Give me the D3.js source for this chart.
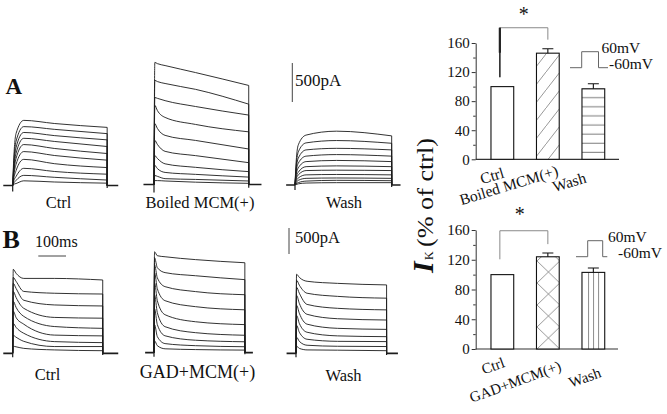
<!DOCTYPE html>
<html><head><meta charset="utf-8">
<script src="https://cdn.jsdelivr.net/npm/d3@7"></script>
<style>
body{margin:0;background:#fff}
svg{display:block}
text{font-family:"Liberation Serif","Times New Roman",serif;fill:#111}
</style>
</head><body>
<svg id="c" width="667" height="414"></svg>
<script>
// ---------------- DATA ----------------
// Bar charts (% of ctrl)
const barCategoriesA = ["Ctrl", "Boiled MCM(+)", "Wash"];
const barValuesA = [100, 146, 97];
const barErrorsA = [0, 6, 7];
const barCategoriesB = ["Ctrl", "GAD+MCM(+)", "Wash"];
const barValuesB = [100, 124, 103];
const barErrorsB = [0, 5, 6];
const barTicks = [0, 40, 80, 120, 160];
const barMinorTicks = [20, 60, 100, 140];
const protocolLabels = ["60mV", "-60mV"];

// Trace panels
const traceLabelsA = ["Ctrl", "Boiled MCM(+)", "Wash"];
const traceLabelsB = ["Ctrl", "GAD+MCM(+)", "Wash"];
const scaleBarPA = 500;
const scaleBarMs = 100;
// sample times (ms after step onset); last sample is the step end
const knotTimesA = [3, 12, 40, 150];
const knotTimesB = [2, 12, 40, 150];
const stepDurA = [341, 342, 349];
const stepDurB = [325, 328, 327];
// currents (pA) at knotTimes and at step end, one row per voltage step
const tracesACtrl = [
  [280, 665, 835, 795, 745],
  [230, 565, 755, 720, 665],
  [190, 485, 680, 640, 585],
  [155, 410, 605, 565, 500],
  [130, 345, 525, 475, 410],
  [105, 270, 435, 385, 325],
  [75, 190, 335, 280, 230],
  [50, 115, 220, 180, 145],
  [25, 65, 130, 105, 70],
  [15, 25, 60, 45, 30]
];
const tracesABoiled = [
  [1565, 1550, 1525, 1435, 1270],
  [1335, 1320, 1295, 1220, 1030],
  [1115, 1105, 1075, 1000, 890],
  [1015, 950, 860, 770, 675],
  [780, 720, 630, 565, 455],
  [565, 515, 425, 370, 280],
  [370, 335, 265, 220, 165],
  [245, 205, 155, 130, 95],
  [115, 105, 75, 65, 45],
  [50, 50, 45, 30, 15]
];
const tracesAWash = [
  [230, 515, 640, 690, 630],
  [180, 425, 540, 570, 535],
  [155, 345, 450, 470, 450],
  [130, 280, 370, 390, 370],
  [105, 220, 300, 315, 300],
  [75, 165, 235, 245, 235],
  [60, 130, 185, 190, 185],
  [40, 90, 130, 135, 130],
  [25, 60, 85, 90, 85],
  [15, 30, 50, 60, 55],
  [5, 15, 25, 30, 30]
];
const tracesBCtrl = [
  [1615, 1540, 1440, 1440, 1410],
  [1460, 1385, 1190, 1155, 1140],
  [1345, 1250, 1020, 930, 910],
  [1190, 1075, 865, 690, 675],
  [1000, 885, 710, 515, 480],
  [810, 690, 560, 350, 335],
  [575, 500, 385, 225, 205],
  [345, 310, 230, 130, 130],
  [135, 125, 95, 65, 50]
];
const tracesBGad = [
  [1940, 1865, 1845, 1790, 1730],
  [1825, 1635, 1540, 1480, 1405],
  [1690, 1440, 1270, 1175, 1115],
  [1540, 1230, 1000, 885, 825],
  [1345, 1000, 730, 595, 540],
  [1115, 770, 500, 385, 335],
  [845, 540, 325, 240, 210],
  [540, 310, 175, 135, 115],
  [230, 135, 75, 60, 50]
];
const tracesBWash = [
  [1520, 1460, 1385, 1345, 1315],
  [1405, 1310, 1155, 1095, 1060],
  [1270, 1155, 940, 865, 835],
  [1115, 960, 750, 665, 640],
  [925, 770, 560, 480, 460],
  [730, 575, 405, 335, 320],
  [540, 405, 270, 230, 225],
  [310, 230, 155, 135, 130],
  [135, 95, 65, 60, 50]
];

// ---------------- DRAWING ----------------
const svg = d3.select("#c");
const defs = svg.append("defs");
const msPx = 27.7;            // px per 100 ms
const ink = "#1c1c1c";

function tracePanel(cfg) {
  const g = svg.append("g");
  const x = d3.scaleLinear().domain([0, scaleBarMs]).range([cfg.onset, cfg.onset + msPx]);
  const y = d3.scaleLinear().domain([0, scaleBarPA]).range([cfg.base, cfg.base - cfg.pxPer500]);
  const line = d3.line().x(d => x(d[0])).y(d => y(d[1])).curve(d3.curveMonotoneX);
  cfg.data.forEach(row => {
    const pts = [[0, 0]].concat(cfg.knots.map((t, i) => [t, row[i]])).concat([[cfg.dur, row[row.length - 1]]]);
    g.append("path")
      .attr("d", line(pts) + `L${x(cfg.dur)},${y(0)}`)
      .attr("fill", "none").attr("stroke", ink).attr("stroke-width", 0.9);
  });
  // baseline before and after the step
  g.append("path")
    .attr("d", `M${x(cfg.pre)},${y(0)}L${x(0)},${y(0)}M${x(cfg.dur)},${y(0)}L${x(cfg.dur + cfg.post)},${y(0)}`)
    .attr("fill", "none").attr("stroke", ink).attr("stroke-width", 1.7);
  g.append("path")
    .attr("d", `M${x(0)},${y(0) + cfg.dip}L${x(0)},${y(0)}M${x(cfg.dur)},${y(0) + cfg.dip * 0.4}L${x(cfg.dur)},${y(0)}`)
    .attr("fill", "none").attr("stroke", ink).attr("stroke-width", 1.2);
  svg.append("text").attr("x", cfg.lx).attr("y", cfg.ly).attr("text-anchor", "middle")
    .attr("font-size", cfg.fs).text(cfg.label);
  return {x, y};
}

const pA = [
  {data: tracesACtrl, knots: knotTimesA, dur: stepDurA[0], onset: 12.7, base: 185.5, pre: -34, post: 40, pxPer500: 39, dip: 6, label: traceLabelsA[0], lx: 58.5, ly: 208, fs: 16.5},
  {data: tracesABoiled, knots: knotTimesA, dur: stepDurA[1], onset: 154, base: 184.5, pre: -38, post: 46, pxPer500: 39, dip: 8, label: traceLabelsA[1], lx: 200, ly: 208, fs: 16.5},
  {data: tracesAWash, knots: knotTimesA, dur: stepDurA[2], onset: 295, base: 185, pre: -32, post: 32, pxPer500: 39, dip: 5, label: traceLabelsA[2], lx: 344, ly: 208, fs: 16.5}
];
const pB = [
  {data: tracesBCtrl, knots: knotTimesB, dur: stepDurB[0], onset: 12.7, base: 353.3, pre: -34, post: 56, pxPer500: 26, dip: 4, label: traceLabelsB[0], lx: 47.5, ly: 380, fs: 16.5},
  {data: tracesBGad, knots: knotTimesB, dur: stepDurB[1], onset: 154, base: 352.7, pre: -32, post: 29, pxPer500: 26, dip: 4, label: traceLabelsB[1], lx: 197.5, ly: 377.5, fs: 18},
  {data: tracesBWash, knots: knotTimesB, dur: stepDurB[2], onset: 296, base: 353.3, pre: -34, post: 41, pxPer500: 26, dip: 4, label: traceLabelsB[2], lx: 343.5, ly: 381, fs: 16.5}
];
const scA = pA.map(tracePanel);
const scB = pB.map(tracePanel);

// scale bars
const yA = scA[0].y, yB = scB[0].y;
const barLenA = yA(0) - yA(scaleBarPA);
const barLenB = yB(0) - yB(scaleBarPA);
svg.append("line").attr("x1", 292.3).attr("x2", 292.3).attr("y1", 102).attr("y2", 102 - barLenA)
  .attr("stroke", "#444").attr("stroke-width", 1);
svg.append("text").attr("x", 295).attr("y", 86).attr("font-size", 17).text(scaleBarPA + "pA");
svg.append("line").attr("x1", 289).attr("x2", 289).attr("y1", 254).attr("y2", 254 - barLenB)
  .attr("stroke", "#444").attr("stroke-width", 1);
svg.append("text").attr("x", 295).attr("y", 242.7).attr("font-size", 16.5).text(scaleBarPA + "pA");
const xB = scB[0].x;
const msLen = xB(scaleBarMs) - xB(0);
svg.append("line").attr("x1", 38.3).attr("x2", 38.3 + msLen).attr("y1", 256).attr("y2", 256)
  .attr("stroke", "#444").attr("stroke-width", 1);
svg.append("text").attr("x", 35).attr("y", 246.7).attr("font-size", 16).text(scaleBarMs + "ms");

// panel letters
svg.append("text").attr("x", 5.5).attr("y", 94).attr("font-size", 23).attr("font-weight", "bold").text("A");
svg.append("text").attr("x", 2.5).attr("y", 248).attr("font-size", 26).attr("font-weight", "bold").text("B");

// ---------------- BAR CHARTS ----------------
// patterns
const pd = defs.append("pattern").attr("id", "diag").attr("patternUnits", "userSpaceOnUse")
  .attr("width", 14).attr("height", 18);
pd.append("path").attr("d", "M-1,19.3L15,-1.3").attr("stroke", "#8c8c8c").attr("stroke-width", 0.9);
const ph = defs.append("pattern").attr("id", "hlines").attr("patternUnits", "userSpaceOnUse")
  .attr("width", 10).attr("height", 9.1);
ph.append("line").attr("x1", 0).attr("x2", 10).attr("y1", 6.7).attr("y2", 6.7).attr("stroke", "#7a7a7a").attr("stroke-width", 1);
const pc = defs.append("pattern").attr("id", "cross").attr("patternUnits", "userSpaceOnUse")
  .attr("width", 22.75).attr("height", 22).attr("x", 537).attr("y", 349);
pc.append("path").attr("d", "M0,0L22.75,22M22.75,0L0,22").attr("stroke", "#8c8c8c").attr("stroke-width", 0.9);

function barChart(cfg) {
  const g = svg.append("g");
  const y = d3.scaleLinear().domain([0, 160]).range([cfg.yBottom, cfg.yTop]);
  const x = d3.scaleBand().domain(cfg.cats).range([479.6, 616.1]).paddingInner(0.5).paddingOuter(0.25);
  // y axis
  const ax = g.append("g").attr("transform", `translate(475.7,0)`)
    .call(d3.axisLeft(y).tickValues(barTicks).tickSize(4).tickSizeOuter(0).tickPadding(2));
  ax.attr("font-family", null).attr("font-size", null);
  ax.selectAll("text").attr("font-size", 15).attr("fill", "#111");
  ax.selectAll("line,path").attr("stroke", "#333");
  const am = g.append("g").attr("transform", `translate(475.7,0)`)
    .call(d3.axisLeft(y).tickValues(barMinorTicks).tickSize(2.5).tickSizeOuter(0).tickFormat(""));
  am.selectAll("line").attr("stroke", "#333");
  am.select("path").remove();
  g.append("line").attr("x1", 475.7).attr("x2", cfg.xEnd).attr("y1", y(0)).attr("y2", y(0))
    .attr("stroke", "#333").attr("stroke-width", 1.2);
  // bars
  cfg.cats.forEach((c, i) => {
    const bx = x(c), bw = x.bandwidth(), top = y(cfg.vals[i]);
    g.append("rect").attr("x", bx).attr("y", top).attr("width", bw).attr("height", y(0) - top)
      .attr("fill", "#fff");
    if (cfg.fills[i] === "vlines") {
      [0.29, 0.51, 0.73].forEach(f => g.append("line").attr("x1", bx + bw * f).attr("x2", bx + bw * f)
        .attr("y1", top).attr("y2", y(0)).attr("stroke", "#8c8c8c").attr("stroke-width", 1));
    } else if (cfg.fills[i] !== "none") {
      g.append("rect").attr("x", bx).attr("y", top).attr("width", bw).attr("height", y(0) - top)
        .attr("fill", `url(#${cfg.fills[i]})`);
    }
    g.append("rect").attr("x", bx).attr("y", top).attr("width", bw).attr("height", y(0) - top)
      .attr("fill", "none").attr("stroke", "#111").attr("stroke-width", 1.1);
    if (cfg.errs[i] > 0) {
      const cx = bx + bw / 2, et = y(cfg.vals[i] + cfg.errs[i]);
      g.append("path").attr("d", `M${cx},${top}V${et}M${cx - 5.5},${et}H${cx + 5.5}`)
        .attr("stroke", "#111").attr("stroke-width", 1.1).attr("fill", "none");
    }
    // category labels
    const cx = bx + bw / 2, o = cfg.labelOff[i];
    g.append("text").attr("text-anchor", "end").attr("font-size", cfg.labelFs)
      .attr("transform", `translate(${cx + o[0]},${y(0) + o[1]}) rotate(${cfg.rot})`)
      .text(c);
  });
  // significance bracket
  const c0 = x(cfg.cats[0]) + x.bandwidth() / 2 - 2.5, c1 = x(cfg.cats[1]) + x.bandwidth() / 2;
  const yt = y(cfg.bracket[0]);
  g.append("path").attr("d", `M${c0},${y(cfg.bracket[1])}V${yt}H${c1}V${y(cfg.bracket[2])}`)
    .attr("fill", "none").attr("stroke", "#8a8a8a").attr("stroke-width", 1);
  if (cfg.darkLeg) {
    g.append("line").attr("x1", c0).attr("x2", c0).attr("y1", yt).attr("y2", y(cfg.bracket[1]))
      .attr("stroke", "#222").attr("stroke-width", 1.4);
    g.append("line").attr("x1", c0).attr("x2", c0).attr("y1", yt).attr("y2", yt + 25)
      .attr("stroke", "#222").attr("stroke-width", 2.2);
  }
  g.append("text").attr("x", (c0 + c1) / 2 - cfg.starShift).attr("y", cfg.starY).attr("text-anchor", "middle")
    .attr("font-size", 20).text("*");
  // voltage protocol
  const p = cfg.proto;
  g.append("path").attr("d", `M${p[0]},${p[5]}H${p[1]}V${p[4]}H${p[2]}V${p[5]}H${p[3]}`)
    .attr("fill", "none").attr("stroke", "#666").attr("stroke-width", 1);
  g.append("text").attr("x", p[6]).attr("y", p[7]).attr("font-size", 15.5).text(protocolLabels[0]);
  g.append("text").attr("x", p[8]).attr("y", p[9]).attr("font-size", 15.5).text(protocolLabels[1]);
}

barChart({cats: barCategoriesA, vals: barValuesA, errs: barErrorsA, yTop: 43, yBottom: 159.3, xEnd: 619,
  fills: ["none", "diag", "hlines"], labelOff: [[2.8, 18], [11.3, 16], [-6.3, 23]], labelFs: 15.5, rot: -17,
  bracket: [181, 113, 164.6], darkLeg: true, starY: 21, starShift: 0,
  proto: [570, 581.7, 598.5, 608, 51.7, 67.7, 601.5, 53, 609, 69]});
barChart({cats: barCategoriesB, vals: barValuesB, errs: barErrorsB, yTop: 230, yBottom: 349, xEnd: 618,
  fills: ["none", "cross", "vlines"], labelOff: [[3.3, 17.6], [14.3, 21], [8.7, 27.6]], labelFs: 15, rot: -20,
  bracket: [159, 120.6, 141], darkLeg: false, starY: 221, starShift: 4,
  proto: [576, 587.7, 602.7, 607.3, 240.7, 256.7, 608, 241.7, 618, 258]});

// shared y-axis title
const tg = svg.append("g").attr("transform", "translate(432.5,273) rotate(-90)");
tg.append("text").attr("x", 0).attr("y", 0).attr("font-size", 30).attr("font-weight", "bold")
  .attr("font-style", "italic").text("I");
tg.append("text").attr("x", 13).attr("y", 0).attr("font-size", 12).text("K");
tg.append("text").attr("x", 26).attr("y", 0).attr("font-size", 24)
  .attr("textLength", 109).attr("lengthAdjust", "spacingAndGlyphs").text("(% of ctrl)");
</script>
</body></html>
